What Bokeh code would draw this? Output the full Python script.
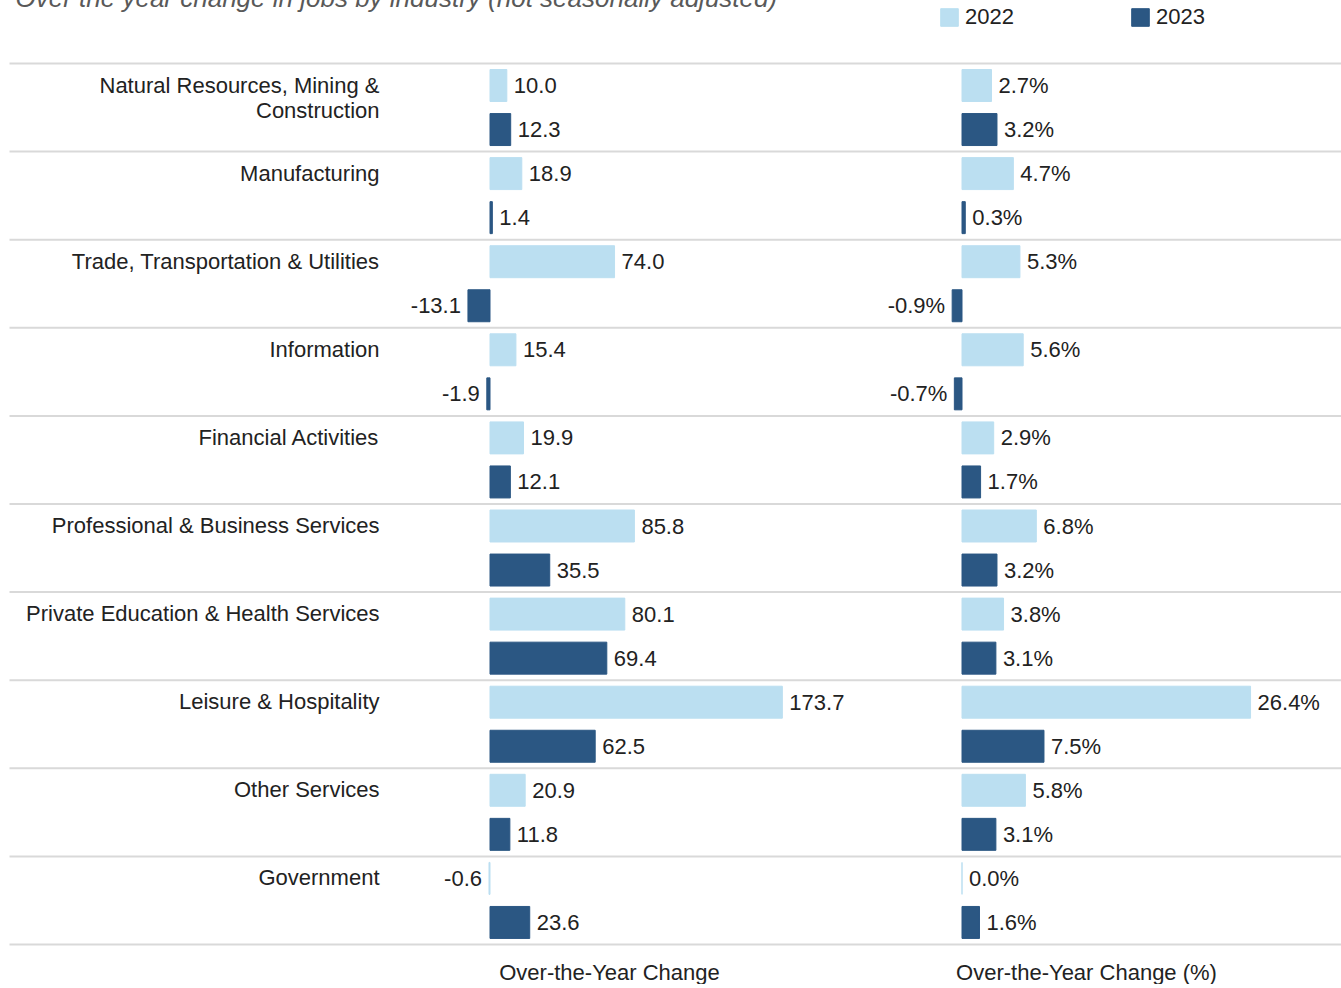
from bokeh.plotting import figure
from bokeh.models import Range1d, ColumnDataSource, Legend, LegendItem
from bokeh.core.properties import value
from bokeh.embed import file_html
from bokeh.resources import INLINE

# ---------------- data ----------------
industries = [
    "Natural Resources, Mining &\nConstruction",
    "Manufacturing",
    "Trade, Transportation & Utilities",
    "Information",
    "Financial Activities",
    "Professional & Business Services",
    "Private Education & Health Services",
    "Leisure & Hospitality",
    "Other Services",
    "Government",
]
change_2022 = [10.0, 18.9, 74.0, 15.4, 19.9, 85.8, 80.1, 173.7, 20.9, -0.6]
change_2023 = [12.3, 1.4, -13.1, -1.9, 12.1, 35.5, 69.4, 62.5, 11.8, 23.6]
pct_2022 = [2.7, 4.7, 5.3, 5.6, 2.9, 6.8, 3.8, 26.4, 5.8, 0.0]
pct_2023 = [3.2, 0.3, -0.9, -0.7, 1.7, 3.2, 3.1, 7.5, 3.1, 1.6]
years = ["2022", "2023"]
title_text = "Over the year change in jobs by industry (not seasonally adjusted)"
axis_titles = ["Over-the-Year Change", "Over-the-Year Change (%)"]

# ---------------- styling / layout ----------------
LIGHT = "#BBDFF1"
DARK = "#2B5783"
TXT = "#222222"
FONT = "Liberation Sans"
FS = "22px"

W, H = 1333, 988
TOP = -4          # screen y of the canvas top (negative margin)
LEFT = 8
# pixel calibration
PX_UNIT1, ZERO1 = 1.683, 489.5
PX_UNIT2, ZERO2 = 10.93, 961.5
PX_SLOT, Y0 = 44.05, 85.0


def xr(zero, unit):
    return Range1d((LEFT - zero) / unit, (LEFT + W - zero) / unit)


y_top = (TOP - Y0) / PX_SLOT
y_bot = (TOP + H - Y0) / PX_SLOT

p = figure(width=W, height=H, output_backend="svg", toolbar_location=None,
           x_range=xr(ZERO1, PX_UNIT1), y_range=Range1d(y_bot, y_top),
           min_border=0, outline_line_color=None, background_fill_color="white")
p.extra_x_ranges = {"pct": xr(ZERO2, PX_UNIT2)}
p.axis.visible = False
p.grid.visible = False
p.margin = (TOP, 0, 0, LEFT)

n = len(industries)
y22 = [2 * i for i in range(n)]
y23 = [2 * i + 1 for i in range(n)]


def px1(px):
    return (px - ZERO1) / PX_UNIT1


def py(px):
    return (px - Y0) / PX_SLOT


# separators
seps = [2 * i - 0.5 for i in range(n + 1)]
p.segment(x0=px1(9), x1=px1(LEFT + W), y0=seps, y1=seps, line_color="#D9D9D9", line_width=2)

BAR_H = 0.726
renderers = {}
for vals22, vals23, rng, fmt in [
    (change_2022, change_2023, "default", "{:.1f}"),
    (pct_2022, pct_2023, "pct", "{:.1f}%"),
]:
    for vals, ys, col, yr in [(vals22, y22, LIGHT, "2022"), (vals23, y23, DARK, "2023")]:
        src = ColumnDataSource(dict(
            y=ys, v=vals,
            lab=[fmt.format(v) for v in vals],
            align=["left" if v >= 0 else "right" for v in vals],
            off=[7 if v >= 0 else -7 for v in vals],
        ))
        r = p.hbar(y="y", left=0, right="v", height=BAR_H, source=src,
                   fill_color=col, line_color=col, line_width=1, x_range_name=rng)
        renderers.setdefault(yr, r)
        p.text(x="v", y="y", text="lab", source=src, x_range_name=rng,
               x_offset="off", text_align="align", text_baseline="middle",
               text_font=value(FONT), text_font_size=FS, text_color=TXT)

# category labels
lab_src = ColumnDataSource(dict(x=[px1(379)] * n, y=y22, t=industries))
p.text(x="x", y="y", text="t", source=lab_src, text_align="right",
       text_baseline="top", y_offset=-13, text_font=value(FONT), text_font_size=FS,
       text_color=TXT, text_line_height=1.0)

# axis titles
p.text(x=[px1(609)], y=[py(972)], text=[axis_titles[0]], text_align="center",
       text_baseline="middle", text_font=value(FONT), text_font_size=FS, text_color=TXT)
p.text(x=[(1086 - ZERO2) / PX_UNIT2], y=[py(972)], text=[axis_titles[1]], x_range_name="pct",
       text_align="center", text_baseline="middle", text_font=value(FONT),
       text_font_size=FS, text_color=TXT)

# title (cut at top of page, as in the original)
p.text(x=[px1(15)], y=[py(-3)], text=[title_text], text_align="left",
       text_baseline="alphabetic", text_font=value(FONT), text_font_size="26px",
       text_font_style="italic", text_color="#595959")

# legend
legend = Legend(items=[LegendItem(label=yr, renderers=[renderers[yr]]) for yr in years],
                orientation="horizontal", location=(938 - LEFT, H - (30 - TOP)),
                glyph_width=22, glyph_height=22, label_standoff=5, spacing=115,
                padding=0, margin=0, border_line_color=None, background_fill_alpha=0,
                label_text_font=FONT, label_text_font_size=FS, label_text_color=TXT,
                label_height=22)
p.add_layout(legend)

open("out.html", "w").write(file_html(p, INLINE))
